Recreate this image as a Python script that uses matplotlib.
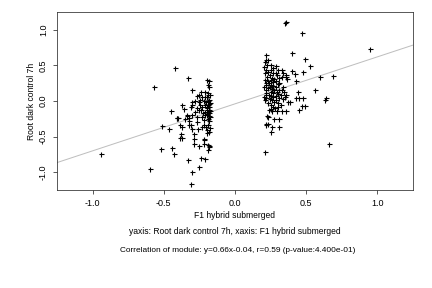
import numpy as np
import matplotlib
matplotlib.use("Agg")
import matplotlib.pyplot as plt

plt.rcParams['font.family'] = ['Liberation Sans', 'DejaVu Sans']

# left cluster (F1 hybrid submerged, Root dark control 7h)
left_x = [-0.94, -0.60, -0.57, -0.52, -0.51, -0.46, -0.45, -0.44, -0.43, -0.42,
          -0.41, -0.40, -0.385, -0.375, -0.36, -0.38, -0.37, -0.385, -0.335, -0.34,
          -0.33, -0.33, -0.31, -0.30, -0.30, -0.325, -0.325, -0.31, -0.30, -0.285,
          -0.29, -0.29, -0.255, -0.22, -0.22, -0.215, -0.32, -0.30, -0.28, -0.265,
          -0.27, -0.25, -0.245, -0.255, -0.28, -0.305, -0.30, -0.31, -0.27, -0.255,
          -0.24, -0.23, -0.245, -0.22, -0.23, -0.24, -0.225, -0.21, -0.23, -0.215,
          -0.22, -0.235, -0.205, -0.20, -0.20, -0.25, -0.24, -0.21,
          -0.20, -0.185, -0.19, -0.18, -0.21, -0.19, -0.175, -0.20, -0.18, -0.19,
          -0.205, -0.175, -0.19, -0.18, -0.20, -0.185, -0.175, -0.19, -0.18, -0.20,
          -0.185, -0.175, -0.19, -0.18, -0.19, -0.175, -0.185, -0.19, -0.18, -0.185,
          -0.19, -0.21, -0.20, -0.21, -0.195, -0.185, -0.19, -0.21, -0.195,
          -0.405, -0.373, -0.35, -0.27, -0.26]
left_y = [-0.75, -0.96, 0.20, -0.68, -0.35, -0.39, -0.14, -0.66, -0.75, 0.47,
          -0.24, -0.24, -0.34, -0.06, -0.11, -0.47, -0.52, -0.52, -0.19, -0.21,
          0.32, -0.83, -1.17, -1.00, 0.16, -0.28, -0.34, -0.34, -0.40, -0.47,
          -0.54, -0.61, -0.63, -0.60, -0.55, -0.54, -0.24, -0.20, -0.15, -0.23,
          -0.10, -0.13, -0.06, -0.02, 0.00, -0.02, -0.06, -0.08, 0.07, 0.08,
          0.13, 0.05, 0.02, 0.00, -0.08, -0.13, -0.17, -0.15, -0.23, -0.27,
          -0.34, -0.36, -0.37, -0.41, -0.45, -0.93, -0.80, -0.81,
          0.29, 0.28, 0.23, 0.19, 0.13, 0.11, 0.08, 0.05, 0.02, 0.005,
          -0.02, -0.03, -0.06, -0.08, -0.10, -0.12, -0.14, -0.15, -0.17, -0.19,
          -0.21, -0.23, -0.25, -0.28, -0.34, -0.385, -0.44, -0.62, -0.63, -0.65,
          -0.69, -0.05, -0.13, -0.20, -0.08, -0.04, 0.08, 0.06, -0.18,
          -0.244, -0.36, -0.25, -0.30, -0.40]

# right cluster
right_x = [0.35, 0.36, 0.47, 0.40, 0.49, 0.53, 0.95, 0.60, 0.69, 0.56,
           0.64, 0.635, 0.66, 0.21, 0.47, 0.49, 0.45, 0.425, 0.45, 0.475,
           0.44, 0.43, 0.40, 0.42, 0.48, 0.36, 0.365, 0.355, 0.33, 0.31,
           0.34, 0.37, 0.385, 0.36, 0.33, 0.31, 0.31, 0.25, 0.26, 0.275,
           0.23, 0.22, 0.215, 0.225, 0.23, 0.24, 0.255,
           0.22, 0.215, 0.23, 0.21, 0.225, 0.205, 0.22, 0.23, 0.21, 0.225,
           0.21, 0.23, 0.215, 0.22, 0.205, 0.23, 0.215, 0.22, 0.205, 0.22,
           0.21, 0.23, 0.215,
           0.255, 0.27, 0.25, 0.265, 0.245, 0.26, 0.275, 0.25, 0.265, 0.24,
           0.255, 0.27, 0.245, 0.26, 0.275, 0.25, 0.265, 0.24, 0.255, 0.27,
           0.245, 0.26, 0.275, 0.25, 0.265, 0.28, 0.26,
           0.29, 0.30, 0.285, 0.295, 0.31, 0.29, 0.30, 0.285, 0.31, 0.295,
           0.30, 0.285, 0.31, 0.29, 0.30, 0.32, 0.305, 0.295,
           0.33, 0.345, 0.325, 0.35, 0.335, 0.36, 0.33, 0.34]
right_y = [1.10, 1.11, 0.95, 0.68, 0.59, 0.49, 0.73, 0.34, 0.35, 0.16,
           0.04, 0.02, -0.61, -0.72, -0.07, -0.07, -0.12, 0.04, 0.04, 0.04,
           0.13, 0.28, 0.42, 0.38, 0.41, 0.34, 0.31, 0.36, 0.34, 0.25,
           0.20, -0.01, -0.02, -0.14, -0.14, -0.25, -0.37, -0.43, -0.37, -0.25,
           -0.33, -0.32, -0.34, -0.21, -0.23, -0.12, -0.11,
           0.64, 0.58, 0.58, 0.55, 0.51, 0.48, 0.44, 0.41, 0.39, 0.34,
           0.30, 0.28, 0.25, 0.22, 0.20, 0.18, 0.15, 0.11, 0.06, 0.04,
           0.01, -0.03, 0.08,
           0.50, 0.46, 0.43, 0.40, 0.37, 0.33, 0.31, 0.29, 0.27, 0.25,
           0.23, 0.21, 0.19, 0.17, 0.15, 0.13, 0.11, 0.09, 0.07, 0.05,
           0.03, 0.01, -0.02, -0.05, -0.08, -0.10, -0.14,
           0.49, 0.44, 0.40, 0.36, 0.32, 0.28, 0.24, 0.20, 0.16, 0.13,
           0.10, 0.07, 0.04, 0.02, -0.03, -0.06, -0.09, -0.14,
           0.15, 0.12, 0.09, 0.06, 0.03, 0.09, 0.44, 0.40]

slope, intercept = 0.66, -0.04
ticks = [-1.0, -0.5, 0.0, 0.5, 1.0]

fig = plt.figure(figsize=(6, 4), dpi=72)
ax = fig.add_axes([57 / 432, 1 - 190 / 288, 356 / 432, 178 / 288])

xs = np.array([-1.25, 1.25])
ax.plot(xs, slope * xs + intercept, color='#bebebe', lw=1, zorder=1)
ax.plot(left_x + right_x, left_y + right_y, ls='none', marker='+',
        color='black', ms=5, mew=1.1, zorder=2)

ax.set_xlim(-1.25, 1.25)
ax.set_ylim(-1.25, 1.25)
ax.set_xticks(ticks)
ax.set_yticks(ticks)
ax.set_xticklabels([f"{t:.1f}" for t in ticks])
ax.set_yticklabels([f"{t:.1f}" for t in ticks], rotation=90, va='center')
ax.tick_params(labelsize=9, length=4, width=0.8, pad=5, color='#333333')
for s in ax.spines.values():
    s.set_linewidth(0.8)
    s.set_color('#333333')

ax.set_xlabel('F1 hybrid submerged', fontsize=8.5, labelpad=3)
ax.set_ylabel('Root dark control 7h', fontsize=8.5, labelpad=3)

fig.text(235 / 432, 1 - 232 / 288, 'yaxis: Root dark control 7h, xaxis: F1 hybrid submerged',
         ha='center', va='center', fontsize=8.5)
fig.text(238 / 432, 1 - 250 / 288,
         'Correlation of module: y=0.66x-0.04, r=0.59 (p-value:4.400e-01)',
         ha='center', va='center', fontsize=8.2)

fig.savefig('out.png', dpi=72)
